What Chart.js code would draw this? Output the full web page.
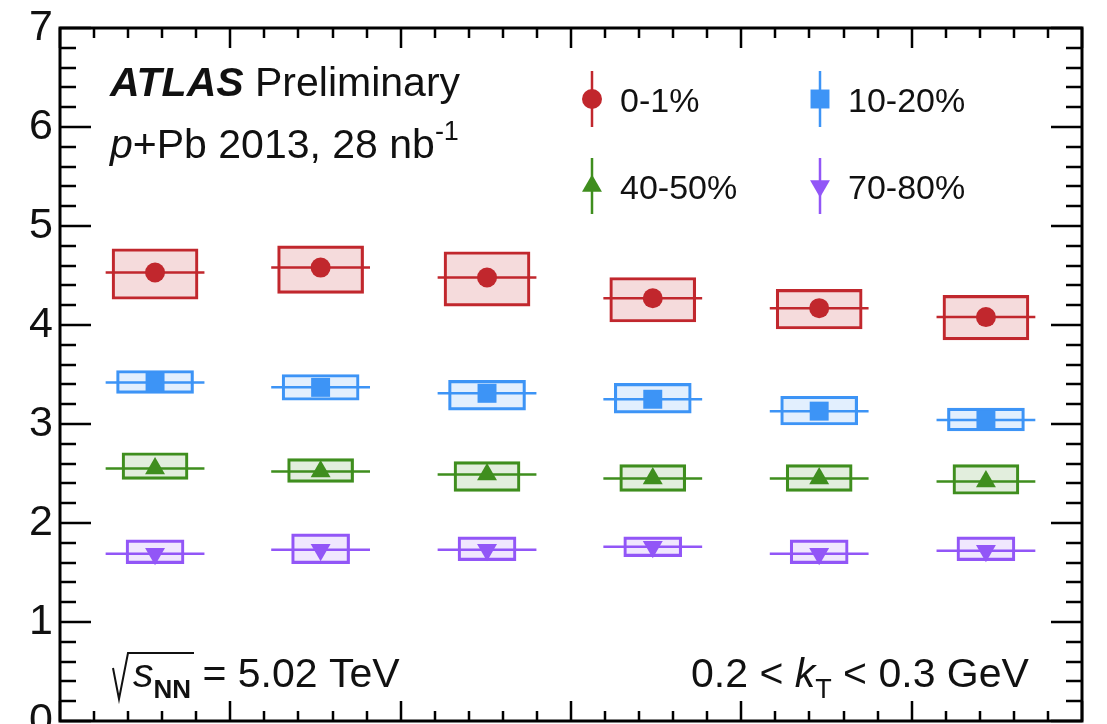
<!DOCTYPE html>
<html>
<head>
<meta charset="utf-8">
<script src="https://cdn.jsdelivr.net/npm/chart.js@4.4.1/dist/chart.umd.min.js"></script>
<style>
  html, body { margin: 0; padding: 0; background: #ffffff; }
  canvas { display: block; }
</style>
</head>
<body>
<canvas id="c" width="1107" height="724"></canvas>
<script>
// Bin centres and half-widths along the horizontal axis
const binCenters    = [0.558, 1.530, 2.507, 3.480, 4.457, 5.436];
const binHalfWidths = [0.29, 0.29, 0.29, 0.29, 0.29, 0.29];
const yTickLabels   = ['0', '1', '2', '3', '4', '5', '6', '7'];

// Centrality classes
const centralityLabels = ['0-1%', '10-20%', '40-50%', '70-80%'];

// 0-1%
const values0to1   = [4.53, 4.58, 4.48, 4.27, 4.17, 4.08];
const sysLow0to1   = [4.26, 4.32, 4.19, 4.03, 3.96, 3.85];
const sysHigh0to1  = [4.77, 4.80, 4.74, 4.48, 4.36, 4.30];
// 10-20%
const values10to20  = [3.42, 3.37, 3.31, 3.25, 3.13, 3.04];
const sysLow10to20  = [3.31, 3.24, 3.14, 3.11, 2.99, 2.93];
const sysHigh10to20 = [3.54, 3.50, 3.44, 3.41, 3.28, 3.16];
// 40-50%
const values40to50  = [2.55, 2.52, 2.49, 2.45, 2.45, 2.42];
const sysLow40to50  = [2.44, 2.41, 2.32, 2.32, 2.32, 2.29];
const sysHigh40to50 = [2.71, 2.65, 2.62, 2.59, 2.59, 2.59];
// 70-80%
const values70to80  = [1.69, 1.73, 1.73, 1.76, 1.69, 1.72];
const sysLow70to80  = [1.59, 1.59, 1.62, 1.66, 1.59, 1.62];
const sysHigh70to80 = [1.83, 1.89, 1.86, 1.86, 1.83, 1.86];

const FONT = '"Liberation Sans", Arial, Helvetica, sans-serif';

const seriesStyles = [
  { values: values0to1,   lo: sysLow0to1,   hi: sysHigh0to1,   color: '#c1272d', fill: 'rgba(193,39,45,0.17)',  boxWidth: 86, pointStyle: 'circle',   radius: 10,   rotation: 0 },
  { values: values10to20, lo: sysLow10to20, hi: sysHigh10to20, color: '#3d94f6', fill: 'rgba(61,148,246,0.15)', boxWidth: 77, pointStyle: 'rect',     radius: 13.4, rotation: 0 },
  { values: values40to50, lo: sysLow40to50, hi: sysHigh40to50, color: '#3f8e1e', fill: 'rgba(63,142,30,0.15)',  boxWidth: 66, pointStyle: 'triangle', radius: 11.5, rotation: 0 },
  { values: values70to80, lo: sysLow70to80, hi: sysHigh70to80, color: '#9256f7', fill: 'rgba(146,86,247,0.14)', boxWidth: 58, pointStyle: 'triangle', radius: 11.5, rotation: 180 }
];

const datasets = [];
seriesStyles.forEach((s, k) => {
  // systematic-uncertainty boxes
  datasets.push({
    type: 'bar',
    label: centralityLabels[k] + ' sys',
    data: binCenters.map((x, i) => ({ x: x, y: [s.lo[i], s.hi[i]] })),
    backgroundColor: s.fill,
    borderColor: s.color,
    borderWidth: 2.5,
    borderSkipped: false,
    barThickness: s.boxWidth,
    grouped: false,
    order: 3
  });
  // horizontal bin-width bars
  const seg = [];
  binCenters.forEach((x, i) => {
    seg.push({ x: x - binHalfWidths[i], y: s.values[i] });
    seg.push({ x: x + binHalfWidths[i], y: s.values[i] });
    seg.push({ x: x + binHalfWidths[i], y: null });
  });
  datasets.push({
    type: 'line',
    label: centralityLabels[k] + ' width',
    data: seg,
    borderColor: s.color,
    borderWidth: 2.5,
    pointRadius: 0,
    spanGaps: false,
    fill: false,
    order: 2
  });
  // markers
  datasets.push({
    type: 'scatter',
    label: centralityLabels[k],
    data: binCenters.map((x, i) => ({ x: x, y: s.values[i] })),
    pointStyle: s.pointStyle,
    pointRadius: s.radius,
    pointRotation: s.rotation,
    pointBackgroundColor: s.color,
    pointBorderColor: s.color,
    pointBorderWidth: 0,
    order: 1
  });
});

function drawMarker(ctx, style, x, y, r, rot, color) {
  ctx.save();
  ctx.fillStyle = color;
  ctx.beginPath();
  if (style === 'circle') {
    ctx.arc(x, y, r, 0, Math.PI * 2);
  } else if (style === 'rect') {
    const h = Math.SQRT1_2 * r;
    ctx.rect(x - h, y - h, 2 * h, 2 * h);
  } else {
    let a = rot * Math.PI / 180;
    for (let j = 0; j < 3; j++) {
      const px = x + Math.sin(a) * r, py = y - Math.cos(a) * r;
      if (j === 0) ctx.moveTo(px, py); else ctx.lineTo(px, py);
      a += 2 * Math.PI / 3;
    }
    ctx.closePath();
  }
  ctx.fill();
  ctx.restore();
}

function drawRuns(ctx, x, y, runs) {
  runs.forEach(r => {
    ctx.font = r.font;
    ctx.fillText(r.text, x, y + (r.dy || 0));
    x += ctx.measureText(r.text).width + (r.gap || 0);
  });
  return x;
}

// Frame with inward ticks on all four sides
const framePlugin = {
  id: 'frame',
  afterDatasetsDraw(chart) {
    const { ctx, chartArea: a, scales: { x, y } } = chart;
    ctx.save();
    ctx.strokeStyle = '#000';
    ctx.lineWidth = 2.5;
    ctx.beginPath();
    for (let k = 0; k <= 35; k++) {
      const py = Math.round(y.getPixelForValue(k * 0.2));
      const len = k % 5 === 0 ? 31 : 16;
      ctx.moveTo(a.left, py); ctx.lineTo(a.left + len, py);
      ctx.moveTo(a.right, py); ctx.lineTo(a.right - len, py);
    }
    for (let k = 0; k <= 30; k++) {
      const px = Math.round(x.getPixelForValue(k * 0.2));
      const len = k % 5 === 0 ? 20 : 10;
      ctx.moveTo(px, a.top); ctx.lineTo(px, a.top + len);
      ctx.moveTo(px, a.bottom); ctx.lineTo(px, a.bottom - len);
    }
    ctx.stroke();
    ctx.lineWidth = 3;
    ctx.strokeRect(a.left, a.top, a.right - a.left, a.bottom - a.top);
    ctx.restore();
  }
};

// Labels, legend and kinematic annotations
const textPlugin = {
  id: 'texts',
  afterDraw(chart) {
    const ctx = chart.ctx;
    ctx.save();
    ctx.fillStyle = '#111';
    ctx.textBaseline = 'alphabetic';
    ctx.textAlign = 'left';

    drawRuns(ctx, 110, 96, [
      { text: 'ATLAS', font: 'italic bold 41px ' + FONT },
      { text: ' Preliminary', font: '41px ' + FONT }
    ]);
    drawRuns(ctx, 110, 158, [
      { text: 'p', font: 'italic 41px ' + FONT },
      { text: '+Pb 2013, 28 nb', font: '41px ' + FONT },
      { text: '-1', font: '27px ' + FONT, dy: -18 }
    ]);

    // centre-of-mass energy with radical sign
    ctx.strokeStyle = '#111';
    ctx.lineWidth = 2;
    ctx.beginPath();
    ctx.moveTo(113, 668);
    ctx.lineTo(119, 699);
    ctx.lineTo(128, 653);
    ctx.lineTo(194, 653);
    ctx.stroke();
    drawRuns(ctx, 133, 687, [
      { text: 's', font: 'italic 41px ' + FONT },
      { text: 'NN', font: 'bold 26px ' + FONT, dy: 11 },
      { text: ' = 5.02 TeV', font: '41px ' + FONT }
    ]);

    drawRuns(ctx, 691, 687, [
      { text: '0.2 < ', font: '41px ' + FONT },
      { text: 'k', font: 'italic 41px ' + FONT },
      { text: 'T', font: '27px ' + FONT, dy: 11 },
      { text: ' < 0.3 GeV', font: '41px ' + FONT }
    ]);

    // legend: marker with vertical bar, then label
    const slots = [[592, 99], [820, 99], [592, 186], [820, 186]];
    seriesStyles.forEach((s, k) => {
      const [lx, ly] = slots[k];
      ctx.strokeStyle = s.color;
      ctx.lineWidth = 2.5;
      ctx.beginPath();
      ctx.moveTo(lx, ly - 28);
      ctx.lineTo(lx, ly + 28);
      ctx.stroke();
      drawMarker(ctx, s.pointStyle, lx, ly, s.radius, s.rotation, s.color);
      ctx.fillStyle = '#111';
      ctx.font = '34px ' + FONT;
      ctx.fillText(centralityLabels[k], lx + 28, ly + 13);
    });
    ctx.restore();
  }
};

new Chart(document.getElementById('c'), {
  type: 'scatter',
  data: { datasets: datasets },
  options: {
    responsive: false,
    animation: false,
    devicePixelRatio: 1,
    layout: { autoPadding: false, padding: { top: 28, right: 25, bottom: 3, left: 0 } },
    plugins: { legend: { display: false }, tooltip: { enabled: false } },
    scales: {
      x: { type: 'linear', display: false, min: 0, max: 6, offset: false },
      y: {
        type: 'linear',
        min: 0,
        max: 7,
        grid: { display: false, drawTicks: false },
        border: { display: false },
        ticks: {
          stepSize: 1,
          autoSkip: false,
          padding: 7,
          color: '#111',
          font: { family: FONT, size: 43 },
          callback: v => yTickLabels[v]
        },
        afterFit(scale) {
          scale.width = 60;
          scale.paddingTop = 0;
          scale.paddingBottom = 0;
        }
      }
    }
  },
  plugins: [framePlugin, textPlugin]
});
</script>
</body>
</html>
